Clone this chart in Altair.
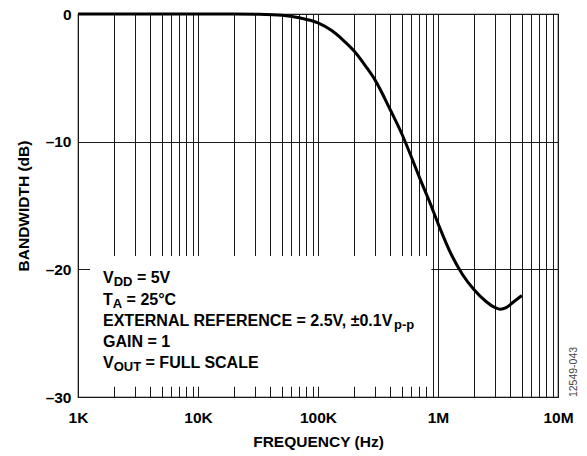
import altair as alt
import pandas as pd

# ---------------- data ----------------
freq_hz = [1000, 2000, 5000, 10000, 20000, 30000, 50000, 70000, 100000,
           130000, 160000, 200000, 250000, 300000, 400000, 500000, 600000,
           700000, 850000, 1000000, 1300000, 1600000, 2000000, 2500000,
           3000000, 3300000, 3700000, 4200000, 5000000]
bandwidth_db = [0, 0, 0, 0, 0, -0.02, -0.1, -0.3, -0.7,
                -1.3, -2.0, -2.9, -4.1, -5.2, -7.5, -9.4, -11.2,
                -12.8, -14.7, -16.4, -18.9, -20.4, -21.6, -22.5,
                -23.0, -23.12, -23.0, -22.6, -22.05]

x_tick_values = [1000, 10000, 100000, 1000000, 10000000]
x_tick_labels = ["1K", "10K", "100K", "1M", "10M"]
y_tick_values = [-30, -20, -10, 0]
minor_multipliers = [1, 2, 3, 4, 5, 6, 7, 8, 9]

note_main = ["V", "T", "EXTERNAL REFERENCE = 2.5V, \u00b10.1V", "GAIN = 1", "V"]
note_sub = ["DD", "A", "p-p", "", "OUT"]
note_tail = ["= 5V", "= 25\u00b0C", "", "", "= FULL SCALE"]
figure_id = "12549-043"

# ---------------- layout / style constants ----------------
FONT = "Liberation Sans"
W, H = 480, 383
MAIN_SIZE = 16
SUB_SIZE = 13
SUB_DY = 3
NOTE_X = 1616                      # Hz, left edge of the note block
NOTE_Y = [-21.1, -22.8, -24.45, -26.1, -27.75]   # dB baselines
BOX = dict(x=1259, x2=880000, y=-18.96, y2=-29.2)

# approximate Arial Bold advance widths (per 1000 em)
ADV = {' ': 278, '=': 584, '.': 278, ',': 278, '\u00b0': 400, '\u00b1': 549,
       '-': 333, 'A': 722, 'B': 722, 'C': 722, 'D': 722, 'E': 667, 'F': 611,
       'G': 778, 'H': 722, 'I': 278, 'K': 722, 'L': 611, 'N': 722, 'O': 778,
       'R': 722, 'S': 667, 'T': 611, 'U': 722, 'V': 667, 'X': 667, 'p': 611}
for d in "0123456789":
    ADV[d] = 556


def text_width(s, size):
    return sum(ADV.get(c, 600) for c in s) * size / 1000.0


grid_values = [d * m for d in x_tick_values[:-1] for m in minor_multipliers] + [x_tick_values[-1]]
label_expr = " : ".join(f"datum.value == {v} ? '{l}'" for v, l in zip(x_tick_values, x_tick_labels)) + " : ''"
y_label_expr = "datum.value == 0 ? '0' : '\u2013' + abs(datum.value)"

xscale = alt.Scale(type="log", domain=[x_tick_values[0], x_tick_values[-1]], nice=False)
yscale = alt.Scale(domain=[y_tick_values[0], y_tick_values[-1]], nice=False, zero=False)

axis_common = dict(
    grid=True, ticks=False, domain=False, gridColor="#1a1a1a", gridWidth=1,
    labelFont=FONT, titleFont=FONT, labelFontSize=15.5, titleFontSize=15.5,
    labelFontWeight="bold", titleFontWeight="bold", labelColor="black",
    titleColor="black", labelOverlap=False,
)

xaxis = alt.Axis(values=grid_values, labelExpr=label_expr, title="FREQUENCY (Hz)",
                 labelFlush=False, labelPadding=13, titlePadding=9, **axis_common)
yaxis = alt.Axis(values=y_tick_values, labelExpr=y_label_expr, title="BANDWIDTH (dB)",
                 labelPadding=7, titlePadding=14, **axis_common)


def X(field):
    return alt.X(field, type="quantitative", scale=xscale, axis=xaxis)


def Y(field):
    return alt.Y(field, type="quantitative", scale=yscale, axis=yaxis)


df = pd.DataFrame({"f": freq_hz, "db": bandwidth_db})

box = alt.Chart(pd.DataFrame([BOX])).mark_rect(color="white").encode(
    x=X("x"), x2="x2:Q", y=Y("y"), y2="y2:Q",
)

line = alt.Chart(df).mark_line(color="black", strokeWidth=3, interpolate="monotone").encode(
    x=X("f"), y=Y("db"),
)

layers = [box, line]
for i in range(len(note_main)):
    pieces = [(note_main[i], MAIN_SIZE, 0), (note_sub[i], SUB_SIZE, SUB_DY), (note_tail[i], MAIN_SIZE, 0)]
    dx = 0.0
    for k, (txt, size, dy) in enumerate(pieces):
        if not txt:
            continue
        if k == 2:
            dx += text_width(" ", MAIN_SIZE)
        layers.append(
            alt.Chart(pd.DataFrame({"x": [NOTE_X], "y": [NOTE_Y[i]], "t": [txt]}))
            .mark_text(align="left", baseline="alphabetic", font=FONT, fontWeight="bold",
                       fontSize=size, dx=dx, dy=dy, color="black")
            .encode(x=X("x"), y=Y("y"), text="t:N")
        )
        dx += text_width(txt, size)

fig_label = alt.Chart(pd.DataFrame({"t": [figure_id]})).mark_text(
    angle=270, font=FONT, fontSize=10.5, color="#444444", align="center", baseline="middle"
).encode(x=alt.value(W + 16), y=alt.value(358), text="t:N")
layers.append(fig_label)

chart = alt.layer(*layers).properties(
    width=W, height=H,
    autosize=alt.AutoSizeParams(type="none"),
    padding={"left": 70, "top": 6, "right": 21, "bottom": 56},
).configure_view(stroke="black", strokeWidth=1.2)

chart.save("out.html", embed_options={"renderer": "svg", "actions": False})
